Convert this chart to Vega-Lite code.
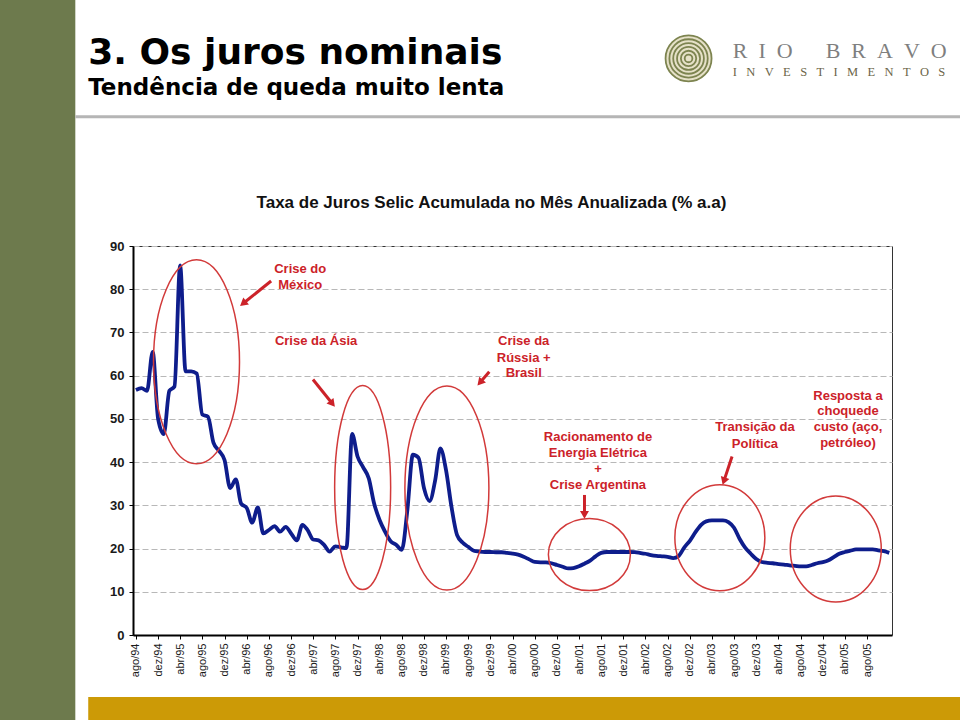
{
  "$schema": "https://vega.github.io/schema/vega-lite/v6.json",
  "width": 759,
  "height": 389,
  "autosize": {"type": "none"},
  "padding": {"left": 133, "top": 246, "right": 68, "bottom": 85},
  "background": "white",
  "config": {"view": {"stroke": "#333333", "strokeWidth": 1}, "font": "Liberation Sans"},
  "encoding": {
    "x": {
      "field": "d", "type": "temporal",
      "scale": {"domain": [{"year": 1994, "month": 7, "date": 16}, {"year": 2005, "month": 12, "date": 16}]},
      "axis": {
        "title": null, "grid": false, "labelAngle": 270, "labelAlign": "right", "labelBaseline": "middle",
        "labelFontSize": 11, "labelColor": "#1a1a1a", "labelPadding": 4, "tickSize": 4, "tickColor": "#000000",
        "domainColor": "#000000", "domainWidth": 2, "labelOverlap": false, "labelFlush": false, "labelBound": false,
        "labelExpr": "['jan','fev','mar','abr','mai','jun','jul','ago','set','out','nov','dez'][month(datum.value)] + '/' + timeFormat(datum.value, '%y')",
        "values": [
          {"year": 1994, "month": 8, "date": 1}, {"year": 1994, "month": 12, "date": 1},
          {"year": 1995, "month": 4, "date": 1}, {"year": 1995, "month": 8, "date": 1}, {"year": 1995, "month": 12, "date": 1},
          {"year": 1996, "month": 4, "date": 1}, {"year": 1996, "month": 8, "date": 1}, {"year": 1996, "month": 12, "date": 1},
          {"year": 1997, "month": 4, "date": 1}, {"year": 1997, "month": 8, "date": 1}, {"year": 1997, "month": 12, "date": 1},
          {"year": 1998, "month": 4, "date": 1}, {"year": 1998, "month": 8, "date": 1}, {"year": 1998, "month": 12, "date": 1},
          {"year": 1999, "month": 4, "date": 1}, {"year": 1999, "month": 8, "date": 1}, {"year": 1999, "month": 12, "date": 1},
          {"year": 2000, "month": 4, "date": 1}, {"year": 2000, "month": 8, "date": 1}, {"year": 2000, "month": 12, "date": 1},
          {"year": 2001, "month": 4, "date": 1}, {"year": 2001, "month": 8, "date": 1}, {"year": 2001, "month": 12, "date": 1},
          {"year": 2002, "month": 4, "date": 1}, {"year": 2002, "month": 8, "date": 1}, {"year": 2002, "month": 12, "date": 1},
          {"year": 2003, "month": 4, "date": 1}, {"year": 2003, "month": 8, "date": 1}, {"year": 2003, "month": 12, "date": 1},
          {"year": 2004, "month": 4, "date": 1}, {"year": 2004, "month": 8, "date": 1}, {"year": 2004, "month": 12, "date": 1},
          {"year": 2005, "month": 4, "date": 1}, {"year": 2005, "month": 8, "date": 1}
        ]
      }
    },
    "y": {
      "field": "v", "type": "quantitative",
      "scale": {"domain": [0, 90], "nice": false, "zero": false},
      "axis": {
        "title": null, "values": [0, 10, 20, 30, 40, 50, 60, 70, 80, 90],
        "labelFontSize": 13, "labelFontWeight": "bold", "labelColor": "#1a1a1a", "labelPadding": 5,
        "tickSize": 4, "tickColor": "#000000", "domainColor": "#000000", "domainWidth": 2,
        "grid": true, "gridDash": [6, 3], "gridColor": "#b8b8b8", "gridWidth": 1
      }
    }
  },
  "layer": [
    {
      "data": {"values": [{"d": "1990-01-01", "d2": "1993-09-02", "v": -40, "v2": 200}], "format": {"parse": {"d": "date:'%Y-%m-%d'", "d2": "date:'%Y-%m-%d'"}}},
      "mark": {"type": "rect", "color": "#6d7a4d"},
      "encoding": {"x2": {"field": "d2"}, "y2": {"field": "v2"}}
    },
    {
      "data": {"values": [{"d": "1993-11-12", "d2": "2010-01-01", "v": -14.35, "v2": -40}], "format": {"parse": {"d": "date:'%Y-%m-%d'", "d2": "date:'%Y-%m-%d'"}}},
      "mark": {"type": "rect", "color": "#cc9a06"},
      "encoding": {"x2": {"field": "d2"}, "y2": {"field": "v2"}}
    },
    {
      "data": {"values": [{"d": "1993-09-02", "d2": "2010-01-01", "v": 119.9}], "format": {"parse": {"d": "date:'%Y-%m-%d'", "d2": "date:'%Y-%m-%d'"}}},
      "mark": {"type": "rule", "color": "#b5b5b5", "strokeWidth": 3},
      "encoding": {"x2": {"field": "d2"}}
    },
    {
      "data": {"values": [{"d": "2002-11-24", "v": 133.4}], "format": {"parse": {"d": "date:'%Y-%m-%d'"}}},
      "mark": {"type": "point", "shape": "circle", "filled": true, "color": "#e6e1c8", "size": 2209, "opacity": 1}
    },
    {
      "data": {"values": [{"d": "2002-11-24", "v": 133.4, "k": 1}, {"d": "2002-11-24", "v": 133.4, "k": 2}, {"d": "2002-11-24", "v": 133.4, "k": 3}, {"d": "2002-11-24", "v": 133.4, "k": 4}, {"d": "2002-11-24", "v": 133.4, "k": 5}, {"d": "2002-11-24", "v": 133.4, "k": 6}], "format": {"parse": {"d": "date:'%Y-%m-%d'"}}},
      "mark": {"type": "point", "shape": "circle", "filled": false, "color": "#7d8450", "strokeWidth": 1.8, "opacity": 1},
      "encoding": {"size": {"field": "k", "type": "quantitative", "scale": {"type": "pow", "exponent": 2, "domain": [0, 6], "range": [0, 2116]}, "legend": null}}
    },
    {
      "data": {"values": [{"d": "2003-07-25", "v": 133.6, "t": "R\u00a0\u00a0I\u00a0\u00a0O\u00a0\u00a0\u00a0\u00a0\u00a0\u00a0B\u00a0\u00a0R\u00a0\u00a0A\u00a0\u00a0V\u00a0\u00a0O"}], "format": {"parse": {"d": "date:'%Y-%m-%d'"}}},
      "mark": {"type": "text", "align": "left", "baseline": "alphabetic", "font": "Liberation Serif", "fontSize": 22, "color": "#7f7f7f"},
      "encoding": {"text": {"field": "t"}}
    },
    {
      "data": {"values": [{"d": "2003-07-25", "v": 129.4, "t": "I\u00a0\u00a0\u00a0N\u00a0\u00a0\u00a0V\u00a0\u00a0\u00a0E\u00a0\u00a0\u00a0S\u00a0\u00a0\u00a0T\u00a0\u00a0\u00a0I\u00a0\u00a0\u00a0M\u00a0\u00a0\u00a0E\u00a0\u00a0\u00a0N\u00a0\u00a0\u00a0T\u00a0\u00a0\u00a0O\u00a0\u00a0\u00a0S"}], "format": {"parse": {"d": "date:'%Y-%m-%d'"}}},
      "mark": {"type": "text", "align": "left", "baseline": "alphabetic", "font": "Liberation Serif", "fontSize": 12.5, "color": "#6b6548"},
      "encoding": {"text": {"field": "t"}}
    },
    {
      "data": {"values": [{"d": "1993-11-12", "v": 132.2, "t": "3. Os juros nominais"}], "format": {"parse": {"d": "date:'%Y-%m-%d'"}}},
      "mark": {"type": "text", "align": "left", "baseline": "alphabetic", "font": "DejaVu Sans", "fontWeight": "bold", "fontSize": 36, "color": "#000000"},
      "encoding": {"text": {"field": "t"}}
    },
    {
      "data": {"values": [{"d": "1993-11-12", "v": 125.0, "t": "Tendência de queda muito lenta"}], "format": {"parse": {"d": "date:'%Y-%m-%d'"}}},
      "mark": {"type": "text", "align": "left", "baseline": "alphabetic", "font": "DejaVu Sans", "fontWeight": "bold", "fontSize": 23, "color": "#000000"},
      "encoding": {"text": {"field": "t"}}
    },
    {
      "data": {"values": [{"d": "1999-12-07", "v": 100, "t": "Taxa de Juros Selic Acumulada no Mês Anualizada (% a.a)"}], "format": {"parse": {"d": "date:'%Y-%m-%d'"}}},
      "mark": {"type": "text", "align": "center", "baseline": "middle", "font": "Liberation Sans", "fontWeight": "bold", "fontSize": 17, "color": "#111111"},
      "encoding": {"text": {"field": "t"}}
    },
    {
      "data": {"values": [
        {"d": "1994-08-01", "v": 56.7}, {"d": "1994-09-01", "v": 57.1}, {"d": "1994-10-01", "v": 56.5}, {"d": "1994-11-01", "v": 65.5}, {"d": "1994-12-01", "v": 50},
        {"d": "1995-01-01", "v": 46.5}, {"d": "1995-02-01", "v": 56.5}, {"d": "1995-03-01", "v": 57.5}, {"d": "1995-04-01", "v": 85.5}, {"d": "1995-05-01", "v": 61}, {"d": "1995-06-01", "v": 61}, {"d": "1995-07-01", "v": 60.5}, {"d": "1995-08-01", "v": 51}, {"d": "1995-09-01", "v": 50.5}, {"d": "1995-10-01", "v": 44.5}, {"d": "1995-11-01", "v": 42.6}, {"d": "1995-12-01", "v": 40.5},
        {"d": "1996-01-01", "v": 34}, {"d": "1996-02-01", "v": 36}, {"d": "1996-03-01", "v": 30.4}, {"d": "1996-04-01", "v": 29.4}, {"d": "1996-05-01", "v": 26}, {"d": "1996-06-01", "v": 29.5}, {"d": "1996-07-01", "v": 23.5}, {"d": "1996-08-01", "v": 24.3}, {"d": "1996-09-01", "v": 25.2}, {"d": "1996-10-01", "v": 23.9}, {"d": "1996-11-01", "v": 25}, {"d": "1996-12-01", "v": 23.5},
        {"d": "1997-01-01", "v": 21.9}, {"d": "1997-02-01", "v": 25.5}, {"d": "1997-03-01", "v": 24.3}, {"d": "1997-04-01", "v": 22.1}, {"d": "1997-05-01", "v": 21.9}, {"d": "1997-06-01", "v": 20.8}, {"d": "1997-07-01", "v": 19.3}, {"d": "1997-08-01", "v": 20.5}, {"d": "1997-09-01", "v": 20.3}, {"d": "1997-10-01", "v": 20.1}, {"d": "1997-11-01", "v": 46.5}, {"d": "1997-12-01", "v": 41.3},
        {"d": "1998-01-01", "v": 38.8}, {"d": "1998-02-01", "v": 36.2}, {"d": "1998-03-01", "v": 30.6}, {"d": "1998-04-01", "v": 26.6}, {"d": "1998-05-01", "v": 23.9}, {"d": "1998-06-01", "v": 21.7}, {"d": "1998-07-01", "v": 20.9}, {"d": "1998-08-01", "v": 19.7}, {"d": "1998-09-01", "v": 29}, {"d": "1998-10-01", "v": 41.7}, {"d": "1998-11-01", "v": 41}, {"d": "1998-12-01", "v": 34},
        {"d": "1999-01-01", "v": 31}, {"d": "1999-02-01", "v": 35.9}, {"d": "1999-03-01", "v": 43.2}, {"d": "1999-04-01", "v": 38.2}, {"d": "1999-05-01", "v": 29.7}, {"d": "1999-06-01", "v": 23.1}, {"d": "1999-07-01", "v": 21.4}, {"d": "1999-08-01", "v": 20.4}, {"d": "1999-09-01", "v": 19.5}, {"d": "1999-10-01", "v": 19.3}, {"d": "1999-11-01", "v": 19.2}, {"d": "1999-12-01", "v": 19.2},
        {"d": "2000-01-01", "v": 19.15}, {"d": "2000-02-01", "v": 19.15}, {"d": "2000-03-01", "v": 19.0}, {"d": "2000-04-01", "v": 18.85}, {"d": "2000-05-01", "v": 18.6}, {"d": "2000-06-01", "v": 18.1}, {"d": "2000-07-01", "v": 17.5}, {"d": "2000-08-01", "v": 16.9}, {"d": "2000-09-01", "v": 16.8}, {"d": "2000-10-01", "v": 16.8}, {"d": "2000-11-01", "v": 16.6}, {"d": "2000-12-01", "v": 16.2},
        {"d": "2001-01-01", "v": 15.8}, {"d": "2001-02-01", "v": 15.4}, {"d": "2001-03-01", "v": 15.5}, {"d": "2001-04-01", "v": 15.9}, {"d": "2001-05-01", "v": 16.5}, {"d": "2001-06-01", "v": 17.2}, {"d": "2001-07-01", "v": 18.2}, {"d": "2001-08-01", "v": 19.0}, {"d": "2001-09-01", "v": 19.2}, {"d": "2001-10-01", "v": 19.2}, {"d": "2001-11-01", "v": 19.2}, {"d": "2001-12-01", "v": 19.2},
        {"d": "2002-01-01", "v": 19.2}, {"d": "2002-02-01", "v": 19.15}, {"d": "2002-03-01", "v": 19.0}, {"d": "2002-04-01", "v": 18.8}, {"d": "2002-05-01", "v": 18.5}, {"d": "2002-06-01", "v": 18.3}, {"d": "2002-07-01", "v": 18.2}, {"d": "2002-08-01", "v": 18.1}, {"d": "2002-09-01", "v": 17.8}, {"d": "2002-10-01", "v": 18.3}, {"d": "2002-11-01", "v": 20.3}, {"d": "2002-12-01", "v": 21.8},
        {"d": "2003-01-01", "v": 23.8}, {"d": "2003-02-01", "v": 25.5}, {"d": "2003-03-01", "v": 26.3}, {"d": "2003-04-01", "v": 26.5}, {"d": "2003-05-01", "v": 26.5}, {"d": "2003-06-01", "v": 26.5}, {"d": "2003-07-01", "v": 26.1}, {"d": "2003-08-01", "v": 24.8}, {"d": "2003-09-01", "v": 22.2}, {"d": "2003-10-01", "v": 20.2}, {"d": "2003-11-01", "v": 18.8}, {"d": "2003-12-01", "v": 17.6},
        {"d": "2004-01-01", "v": 16.9}, {"d": "2004-02-01", "v": 16.7}, {"d": "2004-03-01", "v": 16.6}, {"d": "2004-04-01", "v": 16.4}, {"d": "2004-05-01", "v": 16.3}, {"d": "2004-06-01", "v": 16.1}, {"d": "2004-07-01", "v": 16.0}, {"d": "2004-08-01", "v": 15.9}, {"d": "2004-09-01", "v": 15.9}, {"d": "2004-10-01", "v": 16.2}, {"d": "2004-11-01", "v": 16.6}, {"d": "2004-12-01", "v": 16.85},
        {"d": "2005-01-01", "v": 17.3}, {"d": "2005-02-01", "v": 18.1}, {"d": "2005-03-01", "v": 18.8}, {"d": "2005-04-01", "v": 19.2}, {"d": "2005-05-01", "v": 19.5}, {"d": "2005-06-01", "v": 19.8}, {"d": "2005-07-01", "v": 19.8}, {"d": "2005-08-01", "v": 19.8}, {"d": "2005-09-01", "v": 19.8}, {"d": "2005-10-01", "v": 19.6}, {"d": "2005-11-01", "v": 19.4}, {"d": "2005-12-01", "v": 19.0}
      ], "format": {"parse": {"d": "date:'%Y-%m-%d'"}}},
      "mark": {"type": "line", "color": "#0e1d8c", "strokeWidth": 3.8, "interpolate": "monotone"}
    },
    {
      "data": {"values": [
        {"d": "1995-06-30", "v": 63.2, "e": "e1"},
        {"d": "1997-12-29", "v": 34.1, "e": "e2"},
        {"d": "1999-04-06", "v": 34.0, "e": "e3"},
        {"d": "2001-05-28", "v": 18.6, "e": "e4"},
        {"d": "2003-05-15", "v": 22.5, "e": "e5"},
        {"d": "2005-02-10", "v": 19.9, "e": "e6"}
      ], "format": {"parse": {"d": "date:'%Y-%m-%d'"}}},
      "mark": {"type": "point", "filled": false, "size": 4, "stroke": "#d23a3a", "strokeWidth": 1.5, "opacity": 1},
      "encoding": {"shape": {"field": "e", "type": "nominal", "legend": null, "scale": {"range": [
        "M-43,0A43,102 0 1,0 43,0A43,102 0 1,0 -43,0Z",
        "M-28,0A28,102 0 1,0 28,0A28,102 0 1,0 -28,0Z",
        "M-42,0A42,102 0 1,0 42,0A42,102 0 1,0 -42,0Z",
        "M-41,0A41,36 0 1,0 41,0A41,36 0 1,0 -41,0Z",
        "M-45,0A45,53 0 1,0 45,0A45,53 0 1,0 -45,0Z",
        "M-45.5,0A45.5,53 0 1,0 45.5,0A45.5,53 0 1,0 -45.5,0Z"
      ]}}}
    },
    {
      "data": {"values": [
        {"d": "1996-08-13", "v": 81.9, "d2": "1996-03-12", "v2": 76.7},
        {"d": "1997-03-31", "v": 59.1, "d2": "1997-07-16", "v2": 53.5},
        {"d": "1999-11-25", "v": 60.9, "d2": "1999-10-05", "v2": 58.4},
        {"d": "2001-05-01", "v": 32.4, "d2": "2001-05-01", "v2": 27.8},
        {"d": "2003-07-21", "v": 41.3, "d2": "2003-06-06", "v2": 35.6}
      ], "format": {"parse": {"d": "date:'%Y-%m-%d'", "d2": "date:'%Y-%m-%d'"}}},
      "mark": {"type": "rule", "color": "#cc2229", "strokeWidth": 3},
      "encoding": {"x2": {"field": "d2"}, "y2": {"field": "v2"}}
    },
    {
      "data": {"values": [
        {"d": "1996-03-12", "v": 76.7, "a": 231},
        {"d": "1997-07-16", "v": 53.5, "a": 141},
        {"d": "1999-10-05", "v": 58.4, "a": 221},
        {"d": "2001-05-01", "v": 27.8, "a": 180},
        {"d": "2003-06-06", "v": 35.6, "a": 199}
      ], "format": {"parse": {"d": "date:'%Y-%m-%d'"}}},
      "mark": {"type": "point", "shape": "triangle-up", "filled": true, "color": "#cc2229", "size": 80, "opacity": 1},
      "encoding": {"angle": {"field": "a", "type": "quantitative", "scale": null}}
    },
    {
      "data": {"values": [
        {"d": "1997-01-20", "v": 84.7, "t": "Crise do"},
        {"d": "1997-01-20", "v": 81.0, "t": "México"},
        {"d": "1997-04-17", "v": 68.1, "t": "Crise da Ásia"},
        {"d": "2000-06-01", "v": 68.1, "t": "Crise da"},
        {"d": "2000-06-01", "v": 64.1, "t": "Rússia +"},
        {"d": "2000-06-01", "v": 60.6, "t": "Brasil"},
        {"d": "2001-07-14", "v": 45.8, "t": "Racionamento de"},
        {"d": "2001-07-14", "v": 42.1, "t": "Energia Elétrica"},
        {"d": "2001-07-14", "v": 38.4, "t": "+"},
        {"d": "2001-07-14", "v": 34.7, "t": "Crise Argentina"},
        {"d": "2003-11-24", "v": 48.1, "t": "Transição da"},
        {"d": "2003-11-24", "v": 44.2, "t": "Política"},
        {"d": "2005-04-18", "v": 55.4, "t": "Resposta a"},
        {"d": "2005-04-18", "v": 51.9, "t": "choquede"},
        {"d": "2005-04-18", "v": 48.1, "t": "custo (aço,"},
        {"d": "2005-04-18", "v": 44.5, "t": "petróleo)"}
      ], "format": {"parse": {"d": "date:'%Y-%m-%d'"}}},
      "mark": {"type": "text", "align": "center", "baseline": "middle", "font": "Liberation Sans", "fontWeight": "bold", "fontSize": 13, "color": "#cc2229"},
      "encoding": {"text": {"field": "t"}}
    }
  ]
}
